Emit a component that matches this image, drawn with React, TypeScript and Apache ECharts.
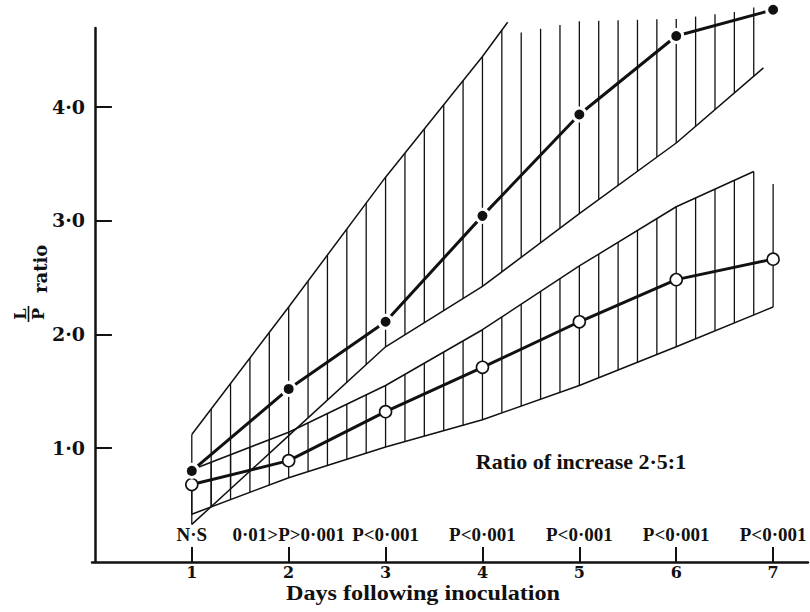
import React, { useEffect, useRef } from "react";
import * as echarts from "echarts";

// ---- data ----
const days = [1, 2, 3, 4, 5, 6, 7];
const pLabels = ["N·S", "0·01>P>0·001", "P<0·001", "P<0·001", "P<0·001", "P<0·001", "P<0·001"];
const yTicks = [1, 2, 3, 4];
const filledValues = [0.8, 1.52, 2.11, 3.04, 3.93, 4.62, 4.85];
const openValues = [0.68, 0.89, 1.32, 1.71, 2.11, 2.48, 2.66];

// band boundaries [day, value]
const upperBandHigh = [[1, 1.12], [2, 2.24], [3, 3.38], [4, 4.44], [4.26, 4.74]];
const upperBandHatchTop = [[4.4, 4.65], [5, 4.75], [6, 4.77], [6.6, 4.83], [6.8, 4.87]];
const upperBandLow = [[1, 0.33], [2, 1.11], [3, 1.89], [4, 2.42], [5, 3.06], [6, 3.68], [6.9, 4.34]];
const lowerBandHigh = [[1, 0.81], [2, 1.14], [3, 1.55], [4, 2.04], [5, 2.6], [6, 3.12], [6.8, 3.43]];
const lowerBandHatchTop = [[7, 3.32]];
const lowerBandLow = [[1, 0.42], [2, 0.74], [3, 1.01], [4, 1.25], [5, 1.55], [6, 1.89], [7, 2.24]];

const upperHatchDays = [1, 1.2, 1.4, 1.6, 1.8, 2, 2.2, 2.4, 2.6, 2.8, 3, 3.2, 3.4, 3.6, 3.8, 4, 4.2, 4.4, 4.6, 4.8, 5, 5.2, 5.4, 5.6, 5.8, 6, 6.2, 6.4, 6.6, 6.8];
const lowerHatchDays = [1, 1.2, 1.4, 1.6, 1.8, 2, 2.2, 2.4, 2.6, 2.8, 3, 3.2, 3.4, 3.6, 3.8, 4, 4.2, 4.4, 4.6, 4.8, 5, 5.2, 5.4, 5.6, 5.8, 6, 6.2, 6.4, 6.6, 6.8, 7];

const INK = "#111";

function interp(knots: number[][], x: number): number {
  if (x <= knots[0][0]) return knots[0][1];
  for (let i = 1; i < knots.length; i++) {
    if (x <= knots[i][0] + 1e-9) {
      const [x0, y0] = knots[i - 1];
      const [x1, y1] = knots[i];
      return y0 + ((y1 - y0) * (x - x0)) / (x1 - x0);
    }
  }
  return knots[knots.length - 1][1];
}

function hatchSeries(hatchDays: number[], lowKnots: number[][], topKnots: number[][]) {
  return {
    type: "custom",
    xAxisIndex: 0,
    yAxisIndex: 0,
    z: 1,
    silent: true,
    clip: false,
    data: hatchDays.map((d) => [d, 0]),
    encode: { x: 0, y: 1 },
    renderItem: (_params: any, api: any) => {
      const x = api.value(0);
      const lo = interp(lowKnots, x);
      const hi = interp(topKnots, x);
      const p1 = api.coord([x, lo]);
      const p2 = api.coord([x, hi]);
      return {
        type: "line",
        shape: { x1: p1[0], y1: p1[1], x2: p2[0], y2: p2[1] },
        style: { stroke: INK, lineWidth: 1.3 },
      };
    },
  };
}

function boundary(knots: number[][]) {
  return {
    type: "line",
    xAxisIndex: 0,
    yAxisIndex: 0,
    data: knots,
    showSymbol: false,
    symbol: "none",
    clip: false,
    silent: true,
    z: 2,
    lineStyle: { color: INK, width: 1.5 },
  };
}

export default function App() {
  const ref = useRef<HTMLDivElement>(null);
  useEffect(() => {
    if (!ref.current) return;
    const chart = echarts.init(ref.current, undefined, { renderer: "svg" });
    const numFont = "'DejaVu Serif', serif";
    const textFont = "'Liberation Serif', 'Times New Roman', serif";
    const fmt = (v: number) => v.toFixed(1).replace(".", "·");
    chart.setOption({
      animation: false,
      backgroundColor: "#fff",
      grid: { left: 92, right: 2, top: 28, bottom: 50 },
      xAxis: [
        {
          type: "value",
          min: -0.03,
          max: 7.36,
          axisLine: { show: true, lineStyle: { color: INK, width: 2.5 } },
          axisTick: { show: true, inside: true, length: 15, customValues: days, lineStyle: { color: INK, width: 2 } },
          axisLabel: {
            customValues: days,
            margin: 2,
            color: INK,
            fontFamily: numFont,
            fontWeight: "bold",
            fontSize: 16,
            formatter: (v: number) => String(v),
          },
          splitLine: { show: false },
        },
        {
          type: "value",
          min: -0.03,
          max: 7.36,
          position: "bottom",
          axisLine: { show: false },
          axisTick: { show: false },
          axisLabel: {
            inside: true,
            customValues: days,
            margin: 18,
            color: INK,
            fontFamily: textFont,
            fontWeight: "bold",
            fontSize: 19,
            formatter: (v: number) => pLabels[days.indexOf(Math.round(v))] || "",
          },
          splitLine: { show: false },
        },
      ],
      yAxis: {
        type: "value",
        min: 0,
        max: 4.69,
        offset: 2,
        axisLine: { show: true, lineStyle: { color: INK, width: 2.5 } },
        axisTick: { show: true, inside: true, length: 17, customValues: yTicks, lineStyle: { color: INK, width: 2 } },
        axisLabel: {
          customValues: yTicks,
          margin: 5,
          color: INK,
          fontFamily: numFont,
          fontWeight: "bold",
          fontSize: 19,
          formatter: fmt,
        },
        splitLine: { show: false },
      },
      graphic: [
        {
          type: "text",
          x: 423,
          y: 592,
          scaleX: 1.1,
          style: {
            text: "Days following inoculation",
            fill: INK,
            font: `bold 22px ${textFont}`,
            align: "center",
            verticalAlign: "middle",
          },
        },
        {
          type: "text",
          x: 581,
          y: 461,
          style: {
            text: "Ratio of increase 2·5:1",
            fill: INK,
            font: `bold 22px ${textFont}`,
            align: "center",
            verticalAlign: "middle",
          },
        },
        {
          type: "group",
          x: 40,
          y: 295,
          rotation: Math.PI / 2,
          children: [
            {
              type: "text",
              x: 2,
              y: 0,
              style: {
                text: "ratio",
                fill: INK,
                font: `bold 18px ${numFont}`,
                align: "left",
                verticalAlign: "middle",
              },
            },
            {
              type: "text",
              x: -19,
              y: -20,
              style: { text: "L", fill: INK, font: `bold 16px ${numFont}`, align: "center", verticalAlign: "middle" },
            },
            {
              type: "line",
              shape: { x1: -27, y1: -11.5, x2: -11, y2: -11.5 },
              style: { stroke: INK, lineWidth: 1.6 },
            },
            {
              type: "text",
              x: -19,
              y: -2,
              style: { text: "P", fill: INK, font: `bold 16px ${numFont}`, align: "center", verticalAlign: "middle" },
            },
          ],
        },
      ],
      series: [
        hatchSeries(upperHatchDays, upperBandLow, upperBandHigh.concat(upperBandHatchTop)),
        hatchSeries(lowerHatchDays, lowerBandLow, lowerBandHigh.concat(lowerBandHatchTop)),
        boundary(upperBandHigh),
        boundary(upperBandLow),
        boundary(lowerBandHigh),
        boundary(lowerBandLow),
        {
          type: "line",
          xAxisIndex: 0,
          yAxisIndex: 0,
          data: days.map((d, i) => [d, openValues[i]]),
          clip: false,
          z: 3,
          symbol: "circle",
          symbolSize: 12,
          itemStyle: { color: "#fff", borderColor: INK, borderWidth: 1.6 },
          lineStyle: { color: INK, width: 3 },
        },
        {
          type: "line",
          xAxisIndex: 0,
          yAxisIndex: 0,
          data: days.map((d, i) => [d, filledValues[i]]),
          clip: false,
          z: 4,
          symbol: "circle",
          symbolSize: 13,
          itemStyle: { color: INK, borderColor: "#fff", borderWidth: 3 },
          lineStyle: { color: INK, width: 3 },
        },
      ],
    });
    return () => chart.dispose();
  }, []);
  return (
    <div
      ref={ref}
      style={{ position: "fixed", left: 0, top: 0, width: 810, height: 612, background: "#fff" }}
    />
  );
}
